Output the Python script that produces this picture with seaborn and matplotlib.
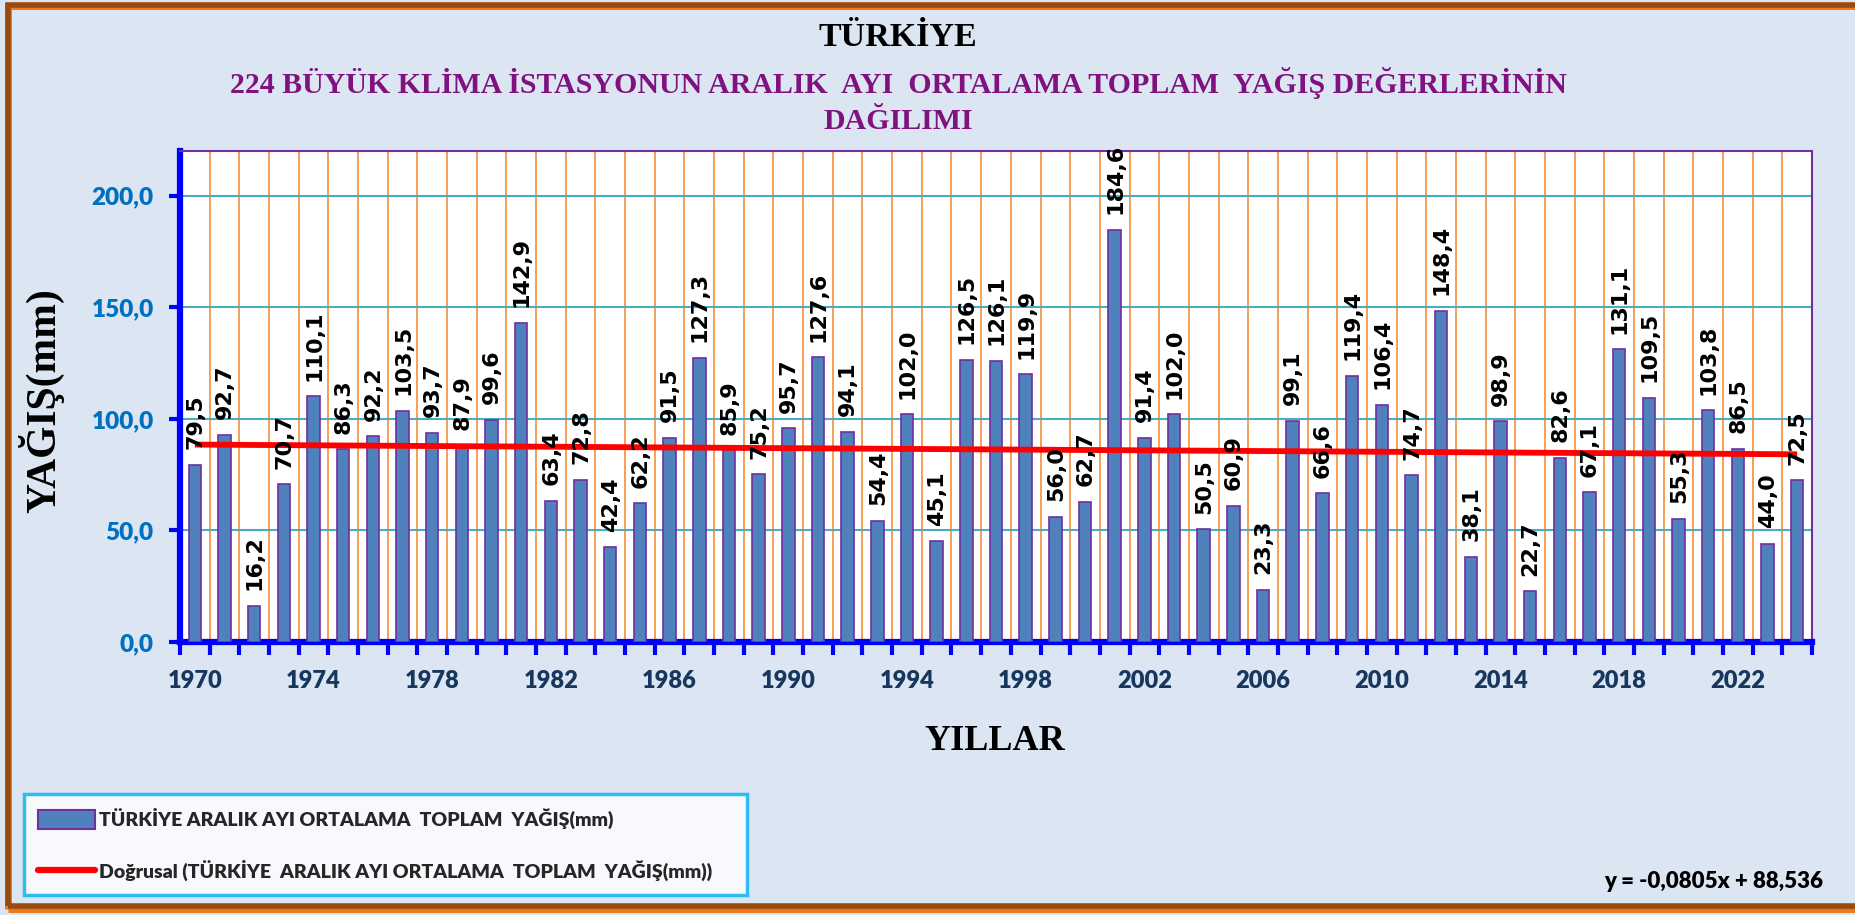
import numpy as np
import pandas as pd
import matplotlib
matplotlib.use("Agg")
import matplotlib.pyplot as plt
from matplotlib.patches import Rectangle, Patch
from matplotlib.lines import Line2D
import seaborn as sns

# December mean total precipitation (mm), 224 climate stations, Türkiye
years = list(range(1970, 2025))
precip = [79.5, 92.7, 16.2, 70.7, 110.1, 86.3, 92.2, 103.5, 93.7, 87.9,
          99.6, 142.9, 63.4, 72.8, 42.4, 62.2, 91.5, 127.3, 85.9, 75.2,
          95.7, 127.6, 94.1, 54.4, 102.0, 45.1, 126.5, 126.1, 119.9, 56.0,
          62.7, 184.6, 91.4, 102.0, 50.5, 60.9, 23.3, 99.1, 66.6, 119.4,
          106.4, 74.7, 148.4, 38.1, 98.9, 22.7, 82.6, 67.1, 131.1, 109.5,
          55.3, 103.8, 86.5, 44.0, 72.5]
# linear trend y = a*x + b, x = 1..n
trend_slope = -0.0805
trend_intercept = 88.536
y_ticks = [0, 50, 100, 150, 200]

title = "TÜRKİYE"
subtitle = "224 BÜYÜK KLİMA İSTASYONUN ARALIK  AYI  ORTALAMA TOPLAM  YAĞIŞ DEĞERLERİNİN\nDAĞILIMI"
series_name = "TÜRKİYE ARALIK AYI ORTALAMA  TOPLAM  YAĞIŞ(mm)"
trend_name = "Doğrusal (TÜRKİYE  ARALIK AYI ORTALAMA  TOPLAM  YAĞIŞ(mm))"
equation = "y = -0,0805x + 88,536"

df = pd.DataFrame({"year": [str(y) for y in years], "precip": precip})
n = len(df)

sns.set_theme(style="white")
plt.rcParams["font.family"] = ["DejaVu Sans"]

BG = "#DCE6F2"
sans = ["Lato", "DejaVu Sans"]
serif = ["Liberation Serif", "DejaVu Serif"]

fig = plt.figure(figsize=(18.56, 9.15), dpi=100, facecolor=BG)

# outer frame, drawn above the legend box
fig.patches.append(Rectangle((8 / 1856, 6 / 915), 1, 1 - 12 / 915, transform=fig.transFigure,
                             fill=False, edgecolor="#E87A22", lw=5, zorder=10))
fig.patches.append(Rectangle((8 / 1856, 9 / 915), 1, 1 - 14 / 915, transform=fig.transFigure,
                             fill=False, edgecolor="#9A4A0C", lw=4, zorder=11))

ax = fig.add_axes([180 / 1856, 1 - 642 / 915, (1812 - 180) / 1856, (642 - 151) / 915])
ax.set_facecolor("white")

sns.barplot(data=df, x="year", y="precip", ax=ax, color="#4F81BD", saturation=1,
            width=0.42, edgecolor="#7030A0", linewidth=1.2, zorder=3)

# trend line over the bar centres
xs = np.arange(n)
ax.plot(xs, trend_slope * (xs + 1) + trend_intercept, color="#FF0000", lw=4.2,
        solid_capstyle="butt", zorder=4)

# value labels
for i, v in enumerate(precip):
    ax.text(i + 0.02, v + 7, f"{v:.1f}".replace(".", ","), rotation=90, ha="center",
            va="bottom", fontsize=16, fontweight="bold", color="black", zorder=5)

ax.set_xlim(-0.5, n - 0.5)
ax.set_ylim(0, 220)

# horizontal grid
ax.set_yticks(y_ticks)
ax.set_yticklabels([f"{t:.1f}".replace(".", ",") for t in y_ticks])
ax.yaxis.grid(True, color="#4BACC6", lw=1.5, zorder=1)

# category boundaries: ticks + vertical grid
bounds = np.arange(-0.5, n, 1.0)
ax.set_xticks(bounds)
ax.set_xticklabels([""] * len(bounds))
ax.xaxis.grid(True, color="#F79646", lw=1.3, zorder=1)
lab_pos = list(range(0, n, 4))
ax.set_xticks(lab_pos, [years[i] for i in lab_pos], minor=True)
ax.tick_params(axis="x", which="major", direction="out", length=9, width=3, color="#0000FF",
               bottom=True)
ax.tick_params(axis="x", which="minor", length=0, pad=20, labelsize=17, labelcolor="#17375E")
ax.tick_params(axis="y", direction="out", length=8, width=3, color="#0000FF", left=True,
               labelsize=17.5, labelcolor="#0070C0", pad=11)
for lbl in ax.get_xticklabels(minor=True) + ax.get_yticklabels():
    lbl.set_fontweight("heavy")
    lbl.set_family(sans)
ax.set_axisbelow(True)

for side in ["left", "bottom"]:
    ax.spines[side].set_color("#0000FF")
    ax.spines[side].set_linewidth(4.5)
for side in ["top", "right"]:
    ax.spines[side].set_color("#7030A0")
    ax.spines[side].set_linewidth(1.5)

ax.set_xlabel("")
ax.set_ylabel("")

fig.text(898 / 1856, 1 - 37 / 915, title, ha="center", va="center", fontsize=24.5,
         fontweight="bold", family=serif, color="black")
fig.text(898 / 1856, 1 - 101 / 915, subtitle, ha="center", va="center", fontsize=21.5,
         fontweight="bold", family=serif, color="#7F127F", linespacing=1.4)
fig.text(41 / 1856, 1 - 401 / 915, "YAĞIŞ(mm)", ha="center", va="center", rotation=90,
         fontsize=30, fontweight="bold", family=serif, color="black")
fig.text(995 / 1856, 1 - 742 / 915, "YILLAR", ha="center", va="center", fontsize=26,
         fontweight="bold", family=serif, color="black")

# legend box, top edge fixed below the x-axis title
handles = [Patch(facecolor="#4F81BD", edgecolor="#7030A0", lw=1.5),
           Line2D([0], [0], color="#FF0000", lw=4.5)]
leg = fig.legend(handles, [series_name, trend_name], loc="upper left",
                 bbox_to_anchor=(14 / 1856, 0, (757 - 14) / 1856, 1 - 784 / 915),
                 mode="expand", frameon=True, fancybox=False, handlelength=2.9,
                 handleheight=1.1, handletextpad=0.2, labelspacing=1.55, borderpad=0.75,
                 prop={"family": sans, "weight": "heavy", "size": 14})
leg.get_frame().set_edgecolor("#00B0F0")
leg.get_frame().set_linewidth(2.5)
leg.get_frame().set_facecolor("white")

fig.text(1823 / 1856, 1 - 882 / 915, equation, ha="right", va="center", fontsize=16,
         fontweight="heavy", family=sans, color="black")

fig.savefig("out.png", dpi=100, facecolor=BG)
